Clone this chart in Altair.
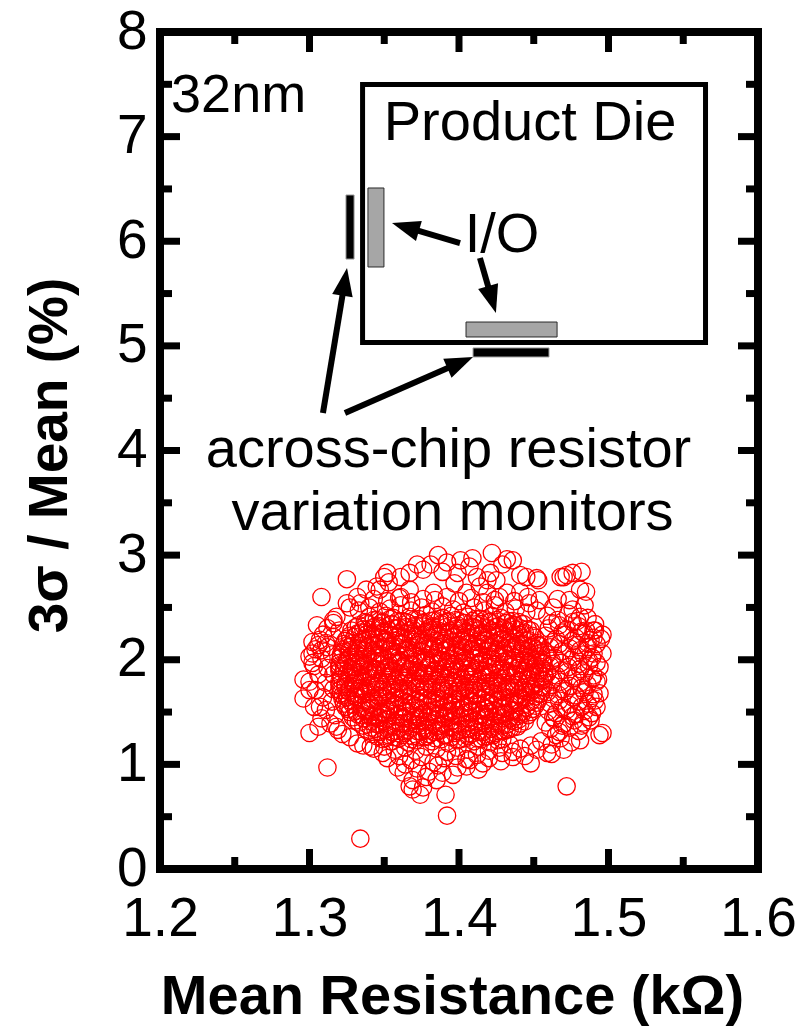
import math

import altair as alt
import pandas as pd

# ---------------------------------------------------------------------------
# Across-chip resistor monitors, 32nm: mean resistance (kOhm) vs 3sigma/mean (%)
# ---------------------------------------------------------------------------

# dense central mass, row by row
core_r = [
    1.340, 1.345, 1.351, 1.356, 1.362, 1.367, 1.373, 1.378, 1.384, 1.389, 1.395, 1.400, 1.406, 1.411, 1.417, 1.422, 1.428, 1.433,
    1.333, 1.338, 1.344, 1.349, 1.355, 1.360, 1.366, 1.371, 1.377, 1.382, 1.388, 1.393, 1.399, 1.404, 1.410, 1.415, 1.421, 1.426, 1.432, 1.437, 1.443,
    1.328, 1.334, 1.339, 1.345, 1.350, 1.356, 1.361, 1.367, 1.372, 1.378, 1.383, 1.389, 1.394, 1.400, 1.405, 1.411, 1.416, 1.422, 1.427, 1.433, 1.438, 1.444, 1.448,
    1.325, 1.330, 1.336, 1.341, 1.347, 1.352, 1.358, 1.363, 1.369, 1.374, 1.380, 1.385, 1.391, 1.396, 1.402, 1.407, 1.413, 1.418, 1.424, 1.429, 1.435, 1.440, 1.446, 1.451,
    1.323, 1.328, 1.333, 1.339, 1.344, 1.350, 1.355, 1.361, 1.366, 1.372, 1.377, 1.383, 1.388, 1.394, 1.399, 1.405, 1.410, 1.416, 1.421, 1.427, 1.432, 1.438, 1.443, 1.449, 1.453,
    1.322, 1.327, 1.331, 1.336, 1.342, 1.347, 1.353, 1.358, 1.364, 1.369, 1.375, 1.380, 1.386, 1.391, 1.397, 1.402, 1.408, 1.413, 1.419, 1.424, 1.430, 1.435, 1.441, 1.446, 1.451, 1.455,
    1.321, 1.325, 1.330, 1.334, 1.339, 1.345, 1.350, 1.356, 1.361, 1.367, 1.372, 1.378, 1.383, 1.389, 1.394, 1.400, 1.405, 1.411, 1.416, 1.422, 1.427, 1.433, 1.438, 1.444, 1.449, 1.453, 1.456,
    1.320, 1.324, 1.329, 1.333, 1.337, 1.342, 1.347, 1.353, 1.358, 1.364, 1.369, 1.375, 1.380, 1.386, 1.391, 1.397, 1.402, 1.408, 1.413, 1.419, 1.424, 1.430, 1.435, 1.441, 1.446, 1.451, 1.456,
    1.320, 1.325, 1.329, 1.334, 1.339, 1.344, 1.350, 1.355, 1.361, 1.366, 1.372, 1.377, 1.383, 1.388, 1.394, 1.399, 1.405, 1.410, 1.416, 1.421, 1.427, 1.432, 1.438, 1.443, 1.449, 1.453, 1.457,
    1.321, 1.326, 1.331, 1.336, 1.341, 1.347, 1.352, 1.358, 1.363, 1.369, 1.374, 1.380, 1.385, 1.391, 1.396, 1.402, 1.407, 1.413, 1.418, 1.424, 1.429, 1.435, 1.440, 1.446, 1.451, 1.456,
    1.320, 1.324, 1.329, 1.334, 1.339, 1.344, 1.349, 1.355, 1.360, 1.366, 1.371, 1.377, 1.382, 1.388, 1.393, 1.399, 1.404, 1.410, 1.415, 1.421, 1.426, 1.432, 1.437, 1.443, 1.448, 1.452, 1.456,
    1.321, 1.326, 1.331, 1.336, 1.341, 1.346, 1.352, 1.357, 1.363, 1.368, 1.374, 1.379, 1.385, 1.390, 1.396, 1.401, 1.407, 1.412, 1.418, 1.423, 1.429, 1.434, 1.440, 1.445, 1.450, 1.455,
    1.322, 1.327, 1.332, 1.338, 1.343, 1.349, 1.354, 1.360, 1.365, 1.371, 1.376, 1.382, 1.387, 1.393, 1.398, 1.404, 1.409, 1.415, 1.420, 1.426, 1.431, 1.437, 1.442, 1.448, 1.453,
    1.324, 1.329, 1.335, 1.340, 1.346, 1.351, 1.357, 1.362, 1.368, 1.373, 1.379, 1.384, 1.390, 1.395, 1.401, 1.406, 1.412, 1.417, 1.423, 1.428, 1.434, 1.439, 1.445, 1.451,
    1.327, 1.332, 1.338, 1.343, 1.349, 1.354, 1.360, 1.365, 1.371, 1.376, 1.382, 1.387, 1.393, 1.398, 1.404, 1.409, 1.415, 1.420, 1.426, 1.431, 1.437, 1.442, 1.448,
    1.331, 1.336, 1.341, 1.347, 1.352, 1.358, 1.363, 1.369, 1.374, 1.380, 1.385, 1.391, 1.396, 1.402, 1.407, 1.413, 1.418, 1.424, 1.429, 1.435, 1.440, 1.444,
    1.336, 1.341, 1.346, 1.352, 1.357, 1.363, 1.368, 1.374, 1.379, 1.385, 1.390, 1.396, 1.401, 1.407, 1.412, 1.418, 1.423, 1.429, 1.434, 1.439,
    1.342, 1.347, 1.353, 1.358, 1.364, 1.369, 1.375, 1.380, 1.386, 1.391, 1.397, 1.402, 1.408, 1.413, 1.419, 1.424, 1.430,
    1.349, 1.355, 1.360, 1.366, 1.371, 1.377, 1.382, 1.388, 1.393, 1.399, 1.404, 1.410, 1.415, 1.421, 1.426,
]
core_s = [
    2.41, 2.38, 2.42, 2.40, 2.37, 2.41, 2.39, 2.43, 2.38, 2.40, 2.42, 2.37, 2.41, 2.39, 2.38, 2.42, 2.40, 2.37,
    2.33, 2.35, 2.32, 2.36, 2.34, 2.31, 2.35, 2.33, 2.36, 2.32, 2.34, 2.37, 2.33, 2.35, 2.31, 2.34, 2.36, 2.32, 2.35, 2.33, 2.34,
    2.28, 2.26, 2.29, 2.25, 2.27, 2.30, 2.26, 2.28, 2.24, 2.27, 2.29, 2.26, 2.28, 2.25, 2.27, 2.30, 2.26, 2.28, 2.25, 2.27, 2.29, 2.26, 2.28,
    2.20, 2.22, 2.19, 2.23, 2.21, 2.18, 2.22, 2.20, 2.23, 2.19, 2.21, 2.24, 2.20, 2.22, 2.18, 2.21, 2.23, 2.19, 2.22, 2.20, 2.21, 2.24, 2.19, 2.21,
    2.15, 2.13, 2.16, 2.12, 2.14, 2.17, 2.13, 2.15, 2.11, 2.14, 2.16, 2.13, 2.15, 2.12, 2.14, 2.17, 2.13, 2.15, 2.12, 2.14, 2.16, 2.13, 2.15, 2.12, 2.14,
    2.07, 2.09, 2.06, 2.10, 2.08, 2.05, 2.09, 2.07, 2.10, 2.06, 2.08, 2.11, 2.07, 2.09, 2.05, 2.08, 2.10, 2.06, 2.09, 2.07, 2.08, 2.11, 2.06, 2.08, 2.10, 2.07,
    2.02, 2.00, 2.03, 1.99, 2.01, 2.04, 2.00, 2.02, 1.98, 2.01, 2.03, 2.00, 2.02, 1.99, 2.01, 2.04, 2.00, 2.02, 1.99, 2.01, 2.03, 2.00, 2.02, 1.99, 2.01, 2.03, 2.00,
    1.94, 1.96, 1.93, 1.97, 1.95, 1.92, 1.96, 1.94, 1.97, 1.93, 1.95, 1.98, 1.94, 1.96, 1.92, 1.95, 1.97, 1.93, 1.96, 1.94, 1.95, 1.98, 1.93, 1.95, 1.97, 1.94, 1.96,
    1.89, 1.87, 1.90, 1.86, 1.88, 1.91, 1.87, 1.89, 1.85, 1.88, 1.90, 1.87, 1.89, 1.86, 1.88, 1.91, 1.87, 1.89, 1.86, 1.88, 1.90, 1.87, 1.89, 1.86, 1.88, 1.90, 1.87,
    1.81, 1.83, 1.80, 1.84, 1.82, 1.79, 1.83, 1.81, 1.84, 1.80, 1.82, 1.85, 1.81, 1.83, 1.79, 1.82, 1.84, 1.80, 1.83, 1.81, 1.82, 1.85, 1.80, 1.82, 1.84, 1.81,
    1.76, 1.74, 1.77, 1.73, 1.75, 1.78, 1.74, 1.76, 1.72, 1.75, 1.77, 1.74, 1.76, 1.73, 1.75, 1.78, 1.74, 1.76, 1.73, 1.75, 1.77, 1.74, 1.76, 1.73, 1.75, 1.77, 1.74,
    1.68, 1.70, 1.67, 1.71, 1.69, 1.66, 1.70, 1.68, 1.71, 1.67, 1.69, 1.72, 1.68, 1.70, 1.66, 1.69, 1.71, 1.67, 1.70, 1.68, 1.69, 1.72, 1.67, 1.69, 1.71, 1.68,
    1.63, 1.61, 1.64, 1.60, 1.62, 1.65, 1.61, 1.63, 1.59, 1.62, 1.64, 1.61, 1.63, 1.60, 1.62, 1.65, 1.61, 1.63, 1.60, 1.62, 1.64, 1.61, 1.63, 1.60, 1.62,
    1.55, 1.57, 1.54, 1.58, 1.56, 1.53, 1.57, 1.55, 1.58, 1.54, 1.56, 1.59, 1.55, 1.57, 1.53, 1.56, 1.58, 1.54, 1.57, 1.55, 1.56, 1.59, 1.54, 1.56,
    1.50, 1.48, 1.51, 1.47, 1.49, 1.52, 1.48, 1.50, 1.46, 1.49, 1.51, 1.48, 1.50, 1.47, 1.49, 1.52, 1.48, 1.50, 1.47, 1.49, 1.51, 1.48, 1.50,
    1.42, 1.44, 1.41, 1.45, 1.43, 1.40, 1.44, 1.42, 1.45, 1.41, 1.43, 1.46, 1.42, 1.44, 1.40, 1.43, 1.45, 1.41, 1.44, 1.42, 1.43, 1.41,
    1.37, 1.35, 1.38, 1.34, 1.36, 1.39, 1.35, 1.37, 1.33, 1.36, 1.38, 1.35, 1.37, 1.34, 1.36, 1.39, 1.35, 1.37, 1.34, 1.36,
    1.29, 1.31, 1.28, 1.32, 1.30, 1.27, 1.31, 1.29, 1.32, 1.28, 1.30, 1.33, 1.29, 1.31, 1.27, 1.30, 1.32,
    1.24, 1.22, 1.25, 1.21, 1.23, 1.26, 1.22, 1.24, 1.20, 1.23, 1.25, 1.22, 1.24, 1.21, 1.23,
]

# second set of rows interleaved with the first
mid_r = [
    1.337, 1.343, 1.348, 1.354, 1.359, 1.365, 1.370, 1.376, 1.381, 1.387, 1.392, 1.398, 1.403, 1.409, 1.414, 1.420, 1.425, 1.431, 1.436, 1.440,
    1.331, 1.336, 1.342, 1.347, 1.353, 1.358, 1.364, 1.369, 1.375, 1.380, 1.386, 1.391, 1.397, 1.402, 1.408, 1.413, 1.419, 1.424, 1.430, 1.435, 1.441, 1.446,
    1.327, 1.332, 1.338, 1.343, 1.349, 1.354, 1.360, 1.365, 1.371, 1.376, 1.382, 1.387, 1.393, 1.398, 1.404, 1.409, 1.415, 1.420, 1.426, 1.431, 1.437, 1.442, 1.449,
    1.324, 1.329, 1.335, 1.340, 1.346, 1.351, 1.357, 1.362, 1.368, 1.373, 1.379, 1.384, 1.390, 1.395, 1.401, 1.406, 1.412, 1.417, 1.423, 1.428, 1.434, 1.439, 1.445, 1.452,
    1.322, 1.326, 1.332, 1.337, 1.343, 1.348, 1.354, 1.359, 1.365, 1.370, 1.376, 1.381, 1.387, 1.392, 1.398, 1.403, 1.409, 1.414, 1.420, 1.425, 1.431, 1.436, 1.442, 1.447, 1.454,
    1.321, 1.327, 1.333, 1.338, 1.344, 1.349, 1.355, 1.360, 1.366, 1.371, 1.377, 1.382, 1.388, 1.393, 1.399, 1.404, 1.410, 1.415, 1.421, 1.426, 1.432, 1.437, 1.443, 1.448, 1.455,
    1.320, 1.326, 1.331, 1.337, 1.342, 1.348, 1.353, 1.359, 1.364, 1.370, 1.375, 1.381, 1.386, 1.392, 1.397, 1.403, 1.408, 1.414, 1.419, 1.425, 1.430, 1.436, 1.441, 1.447, 1.452, 1.456,
    1.320, 1.323, 1.328, 1.334, 1.340, 1.345, 1.351, 1.356, 1.362, 1.367, 1.373, 1.378, 1.384, 1.389, 1.395, 1.400, 1.406, 1.411, 1.417, 1.422, 1.428, 1.433, 1.439, 1.444, 1.450, 1.455,
    1.321, 1.327, 1.332, 1.338, 1.343, 1.349, 1.354, 1.360, 1.365, 1.371, 1.376, 1.382, 1.387, 1.393, 1.398, 1.404, 1.409, 1.415, 1.420, 1.426, 1.431, 1.437, 1.442, 1.448, 1.453, 1.457,
    1.320, 1.324, 1.330, 1.335, 1.341, 1.346, 1.352, 1.357, 1.363, 1.368, 1.374, 1.379, 1.385, 1.390, 1.396, 1.401, 1.407, 1.412, 1.418, 1.423, 1.429, 1.434, 1.440, 1.445, 1.451, 1.456,
    1.320, 1.327, 1.333, 1.338, 1.344, 1.349, 1.355, 1.360, 1.366, 1.371, 1.377, 1.382, 1.388, 1.393, 1.399, 1.404, 1.410, 1.415, 1.421, 1.426, 1.432, 1.437, 1.443, 1.448, 1.455,
    1.322, 1.325, 1.330, 1.335, 1.341, 1.346, 1.352, 1.357, 1.363, 1.368, 1.374, 1.379, 1.385, 1.390, 1.396, 1.401, 1.407, 1.412, 1.418, 1.423, 1.429, 1.434, 1.440, 1.445, 1.451, 1.454,
    1.323, 1.330, 1.335, 1.341, 1.346, 1.352, 1.357, 1.363, 1.368, 1.374, 1.379, 1.385, 1.390, 1.396, 1.401, 1.407, 1.412, 1.418, 1.423, 1.429, 1.434, 1.440, 1.445, 1.452,
    1.326, 1.331, 1.337, 1.342, 1.348, 1.353, 1.359, 1.364, 1.370, 1.375, 1.381, 1.386, 1.392, 1.397, 1.403, 1.408, 1.414, 1.419, 1.425, 1.430, 1.436, 1.441, 1.449,
    1.329, 1.335, 1.340, 1.346, 1.351, 1.357, 1.362, 1.368, 1.373, 1.379, 1.384, 1.390, 1.395, 1.401, 1.406, 1.412, 1.417, 1.423, 1.428, 1.434, 1.439, 1.446,
    1.333, 1.339, 1.344, 1.350, 1.355, 1.361, 1.366, 1.372, 1.377, 1.383, 1.388, 1.394, 1.399, 1.405, 1.410, 1.416, 1.421, 1.427, 1.432, 1.437, 1.441,
    1.339, 1.344, 1.350, 1.355, 1.361, 1.366, 1.372, 1.377, 1.383, 1.388, 1.394, 1.399, 1.405, 1.410, 1.416, 1.421, 1.427, 1.432, 1.436,
    1.345, 1.351, 1.357, 1.362, 1.368, 1.373, 1.379, 1.384, 1.390, 1.395, 1.401, 1.406, 1.412, 1.417, 1.423, 1.429,
]
mid_s = [
    2.36, 2.38, 2.35, 2.39, 2.37, 2.36, 2.38, 2.35, 2.37, 2.39, 2.36, 2.38, 2.35, 2.37, 2.39, 2.36, 2.38, 2.35, 2.37, 2.36,
    2.31, 2.29, 2.30, 2.32, 2.28, 2.30, 2.31, 2.29, 2.32, 2.30, 2.28, 2.31, 2.29, 2.30, 2.32, 2.28, 2.30, 2.31, 2.29, 2.32, 2.30, 2.29,
    2.23, 2.25, 2.24, 2.22, 2.26, 2.24, 2.23, 2.25, 2.22, 2.24, 2.26, 2.23, 2.25, 2.24, 2.22, 2.25, 2.23, 2.24, 2.26, 2.22, 2.24, 2.25, 2.23,
    2.18, 2.16, 2.17, 2.19, 2.15, 2.17, 2.18, 2.16, 2.19, 2.17, 2.15, 2.18, 2.16, 2.17, 2.19, 2.15, 2.17, 2.18, 2.16, 2.19, 2.17, 2.15, 2.18, 2.16,
    2.10, 2.12, 2.11, 2.09, 2.13, 2.11, 2.10, 2.12, 2.09, 2.11, 2.13, 2.10, 2.12, 2.11, 2.09, 2.12, 2.10, 2.11, 2.13, 2.09, 2.11, 2.12, 2.10, 2.11, 2.13,
    2.05, 2.03, 2.04, 2.06, 2.02, 2.04, 2.05, 2.03, 2.06, 2.04, 2.02, 2.05, 2.03, 2.04, 2.06, 2.02, 2.04, 2.05, 2.03, 2.06, 2.04, 2.02, 2.05, 2.03, 2.04,
    1.97, 1.99, 1.98, 1.96, 2.00, 1.98, 1.97, 1.99, 1.96, 1.98, 2.00, 1.97, 1.99, 1.98, 1.96, 1.99, 1.97, 1.98, 2.00, 1.96, 1.98, 1.99, 1.97, 1.98, 2.00, 1.97,
    1.92, 1.90, 1.91, 1.93, 1.89, 1.91, 1.92, 1.90, 1.93, 1.91, 1.89, 1.92, 1.90, 1.91, 1.93, 1.89, 1.91, 1.92, 1.90, 1.93, 1.91, 1.89, 1.92, 1.90, 1.91, 1.93,
    1.84, 1.86, 1.85, 1.83, 1.87, 1.85, 1.84, 1.86, 1.83, 1.85, 1.87, 1.84, 1.86, 1.85, 1.83, 1.86, 1.84, 1.85, 1.87, 1.83, 1.85, 1.86, 1.84, 1.85, 1.87, 1.84,
    1.79, 1.77, 1.78, 1.80, 1.76, 1.78, 1.79, 1.77, 1.80, 1.78, 1.76, 1.79, 1.77, 1.78, 1.80, 1.76, 1.78, 1.79, 1.77, 1.80, 1.78, 1.76, 1.79, 1.77, 1.78, 1.80,
    1.71, 1.73, 1.72, 1.70, 1.74, 1.72, 1.71, 1.73, 1.70, 1.72, 1.74, 1.71, 1.73, 1.72, 1.70, 1.73, 1.71, 1.72, 1.74, 1.70, 1.72, 1.73, 1.71, 1.72, 1.74,
    1.66, 1.64, 1.65, 1.67, 1.63, 1.65, 1.66, 1.64, 1.67, 1.65, 1.63, 1.66, 1.64, 1.65, 1.67, 1.63, 1.65, 1.66, 1.64, 1.67, 1.65, 1.63, 1.66, 1.64, 1.65, 1.67,
    1.58, 1.60, 1.59, 1.57, 1.61, 1.59, 1.58, 1.60, 1.57, 1.59, 1.61, 1.58, 1.60, 1.59, 1.57, 1.60, 1.58, 1.59, 1.61, 1.57, 1.59, 1.60, 1.58, 1.59,
    1.53, 1.51, 1.52, 1.54, 1.50, 1.52, 1.53, 1.51, 1.54, 1.52, 1.50, 1.53, 1.51, 1.52, 1.54, 1.50, 1.52, 1.53, 1.51, 1.54, 1.52, 1.50, 1.53,
    1.45, 1.47, 1.46, 1.44, 1.48, 1.46, 1.45, 1.47, 1.44, 1.46, 1.48, 1.45, 1.47, 1.46, 1.44, 1.47, 1.45, 1.46, 1.48, 1.44, 1.46, 1.47,
    1.40, 1.38, 1.39, 1.41, 1.37, 1.39, 1.40, 1.38, 1.41, 1.39, 1.37, 1.40, 1.38, 1.39, 1.41, 1.37, 1.39, 1.40, 1.38, 1.41, 1.39,
    1.32, 1.34, 1.33, 1.31, 1.35, 1.33, 1.32, 1.34, 1.31, 1.33, 1.35, 1.32, 1.34, 1.33, 1.31, 1.34, 1.32, 1.33, 1.35,
    1.27, 1.25, 1.26, 1.28, 1.24, 1.26, 1.27, 1.25, 1.28, 1.26, 1.24, 1.27, 1.25, 1.26, 1.28, 1.24,
]

# right-hand lobe of the cloud
right_r = [
    1.459, 1.466, 1.473, 1.479, 1.486,
    1.460, 1.467, 1.472, 1.480, 1.485, 1.491,
    1.458, 1.465, 1.471, 1.478, 1.484, 1.490,
    1.461, 1.467, 1.474, 1.479, 1.486, 1.492,
    1.459, 1.464, 1.471, 1.477, 1.483, 1.489,
    1.461, 1.468, 1.473, 1.480, 1.487, 1.492,
    1.459, 1.465, 1.472, 1.478, 1.484, 1.490,
    1.462, 1.468, 1.474, 1.481, 1.486, 1.492,
    1.459, 1.466, 1.471, 1.478, 1.484, 1.490,
    1.461, 1.467, 1.474, 1.480, 1.486, 1.491,
    1.460, 1.465, 1.472, 1.478, 1.484, 1.489,
    1.458, 1.464, 1.470, 1.477, 1.483,
    1.461, 1.467, 1.474, 1.480,
    1.462, 1.476, 1.469, 1.482, 1.463, 1.476, 1.488, 1.469, 1.481, 1.462,
    1.475, 1.487, 1.468, 1.481, 1.463, 1.476, 1.489, 1.469, 1.482, 1.463,
    1.476, 1.488, 1.469, 1.482, 1.463, 1.476, 1.487, 1.469, 1.482, 1.465,
]
right_s = [
    2.42, 2.38, 2.44, 2.37, 2.40,
    2.30, 2.33, 2.29, 2.32, 2.28, 2.34,
    2.23, 2.20, 2.24, 2.21, 2.25, 2.21,
    2.12, 2.15, 2.11, 2.14, 2.12, 2.15,
    2.05, 2.02, 2.06, 2.03, 2.05, 2.02,
    1.94, 1.97, 1.93, 1.96, 1.94, 1.97,
    1.87, 1.85, 1.88, 1.84, 1.87, 1.85,
    1.76, 1.79, 1.75, 1.78, 1.76, 1.79,
    1.69, 1.67, 1.70, 1.66, 1.69, 1.67,
    1.58, 1.61, 1.57, 1.60, 1.58, 1.61,
    1.51, 1.49, 1.52, 1.48, 1.51, 1.49,
    1.40, 1.43, 1.39, 1.42, 1.40,
    1.34, 1.31, 1.35, 1.32,
    2.35, 2.36, 2.26, 2.27, 2.17, 2.18, 2.19, 2.08, 2.09, 1.99,
    2.00, 1.99, 1.90, 1.91, 1.81, 1.82, 1.82, 1.72, 1.73, 1.63,
    1.64, 1.63, 1.54, 1.55, 1.45, 1.46, 1.45, 1.37, 1.37, 1.28,
]

# left flank
left_r = [1.305, 1.312, 1.309, 1.316, 1.304, 1.311, 1.315, 1.308, 1.303, 1.312,
          1.316, 1.306, 1.300, 1.311, 1.316, 1.304, 1.309, 1.315, 1.303, 1.311,
          1.317, 1.308, 1.314, 1.319, 1.306, 1.322]
left_s = [2.33, 2.30, 2.24, 2.22, 2.10, 2.16, 2.05, 2.01, 1.94, 1.92,
          1.86, 1.86, 1.79, 1.78, 1.72, 1.71, 1.64, 1.60, 1.55, 1.52,
          1.47, 1.44, 1.39, 1.33, 1.36, 1.29]

# upper band
top_r = [1.333, 1.340, 1.347, 1.354, 1.361, 1.368, 1.375, 1.382, 1.389, 1.396,
         1.403, 1.410, 1.417, 1.424, 1.431, 1.438, 1.445, 1.452,
         1.343, 1.352, 1.360, 1.368, 1.376, 1.384, 1.392, 1.400, 1.408, 1.416,
         1.424, 1.437, 1.446, 1.466]
top_s = [2.47, 2.50, 2.46, 2.49, 2.52, 2.47, 2.50, 2.46, 2.51, 2.48,
         2.45, 2.50, 2.47, 2.52, 2.46, 2.49, 2.45, 2.47,
         2.58, 2.56, 2.59, 2.55, 2.58, 2.57, 2.60, 2.56, 2.59, 2.55,
         2.57, 2.56, 2.60, 2.58]

# lower band
low_r = [1.336, 1.343, 1.350, 1.357, 1.364, 1.371, 1.378, 1.385, 1.392, 1.399,
         1.406, 1.413, 1.420, 1.427, 1.434, 1.441, 1.448, 1.455, 1.462, 1.468,
         1.475,
         1.352, 1.360, 1.368, 1.375, 1.383, 1.390, 1.398, 1.405, 1.412, 1.420,
         1.428, 1.436, 1.444, 1.452, 1.462,
         1.372, 1.380, 1.386, 1.396, 1.405, 1.413, 1.378, 1.364]
low_s = [1.18, 1.15, 1.17, 1.14, 1.16, 1.13, 1.17, 1.15, 1.12, 1.16,
         1.14, 1.17, 1.13, 1.16, 1.19, 1.15, 1.18, 1.22, 1.19, 1.25,
         1.21,
         1.06, 1.08, 1.04, 1.07, 1.02, 1.06, 1.08, 1.05, 1.09, 1.06,
         1.03, 1.12, 1.08, 1.14, 1.10,
         0.96, 0.93, 0.99, 0.90, 0.98, 0.95, 0.88, 1.00]

# outer ring and stragglers
edge_r = [1.325, 1.308, 1.386, 1.422, 1.409, 1.432, 1.372, 1.482, 1.470, 1.453,
          1.485, 1.496, 1.496, 1.472, 1.391, 1.392, 1.334, 1.312, 1.300, 1.296,
          1.302, 1.374, 1.367, 1.429, 1.436, 1.441, 1.452, 1.468, 1.476, 1.481,
          1.484, 1.474, 1.491, 1.495, 1.496, 1.494, 1.493, 1.494, 1.492, 1.488,
          1.494, 1.481, 1.470, 1.459, 1.448, 1.436, 1.429, 1.416, 1.407, 1.399,
          1.389, 1.385, 1.376, 1.369, 1.369, 1.363, 1.359, 1.349, 1.341, 1.332,
          1.327, 1.318, 1.307, 1.300, 1.296, 1.302, 1.302, 1.306, 1.308, 1.316,
          1.318, 1.325, 1.332, 1.345, 1.352, 1.353, 1.367, 1.376, 1.381, 1.389,
          1.399, 1.407, 1.412, 1.421, 1.425, 1.401,
          1.392, 1.350, 1.334, 1.347, 1.361, 1.367, 1.397, 1.414, 1.419, 1.445,
          1.472, 1.454, 1.447, 1.463, 1.476, 1.481, 1.490, 1.486, 1.427, 1.432,
          1.441, 1.419, 1.405, 1.383, 1.361, 1.338, 1.327, 1.316, 1.320, 1.307,
          1.312, 1.300, 1.490]
edge_s = [2.77, 2.60, 3.00, 3.02, 2.97, 2.96, 2.91, 2.84, 2.79, 2.76,
          2.65, 2.24, 1.30, 0.79, 0.71, 0.51, 0.29, 0.97, 1.30, 1.63,
          2.17, 0.71, 0.79, 2.91, 2.95, 2.81, 2.78, 2.79, 2.83, 2.67,
          2.52, 2.57, 2.28, 2.20, 2.06, 1.93, 1.81, 1.68, 1.55, 1.42,
          1.28, 1.23, 1.14, 1.11, 1.01, 1.07, 1.11, 1.01, 1.04, 0.97,
          0.92, 0.85, 0.78, 0.76, 0.85, 0.92, 0.97, 1.11, 1.17, 1.20,
          1.26, 1.36, 1.55, 1.71, 1.81, 1.97, 2.06, 2.14, 2.09, 2.35,
          2.41, 2.54, 2.60, 2.70, 2.83, 2.74, 2.83, 2.86, 2.91, 2.84,
          2.83, 2.89, 2.79, 2.83, 2.76, 2.95,
          2.93, 2.79, 2.54, 2.67, 2.60, 2.67, 2.73, 2.70, 2.76, 2.79,
          2.81, 2.57, 2.54, 2.50, 2.48, 2.41, 2.28, 2.16, 2.60, 2.64,
          2.65, 2.64, 2.64, 2.64, 2.79, 2.67, 2.50, 2.38, 2.28, 2.19,
          2.12, 2.03, 2.06]

# axis ticks
x_major = [1.2, 1.3, 1.4, 1.5, 1.6]
x_minor = [1.25, 1.35, 1.45, 1.55]
y_major = [0, 1, 2, 3, 4, 5, 6, 7, 8]
y_minor = [0.5, 1.5, 2.5, 3.5, 4.5, 5.5, 6.5, 7.5]

# die sketch (in axis units)
die_box = {"x": [1.3355], "x2": [1.5649], "y": [5.032], "y2": [7.498]}
io_pads = {"x": [1.3391, 1.4047], "x2": [1.3498, 1.4656], "y": [5.754, 5.085], "y2": [6.509, 5.228]}
monitors = {"x": [1.3244, 1.4094], "x2": [1.3298, 1.4602], "y": [5.830, 4.894], "y2": [6.442, 4.980]}
arrow_tail_r = [1.4007, 1.4140, 1.3090, 1.3237]
arrow_tail_s = [5.983, 5.840, 4.358, 4.358]
arrow_tip_r = [1.3552, 1.4247, 1.3251, 1.4094]
arrow_tip_s = [6.174, 5.314, 5.744, 4.894]

# ---------------------------------------------------------------------------
W, H = 598, 837
FONT = "Liberation Sans"
PX_R = W / (x_major[-1] - x_major[0])
PX_S = H / (y_major[-1] - y_major[0])

xs = alt.Scale(domain=[x_major[0], x_major[-1]], nice=False, zero=False)
ys = alt.Scale(domain=[y_major[0], y_major[-1]], nice=False, zero=False)

# one axis definition shared by every layer so the merged axis keeps it
XAXIS = alt.Axis(
    values=x_major, format=".1f", grid=False, domain=False, ticks=False, tickSize=0,
    labelFont=FONT, labelFontSize=55, labelColor="black", labelPadding=66,
    labelBaseline="alphabetic", labelFlush=False, labelOverlap=False,
    title="Mean Resistance (kΩ)", titleFont=FONT, titleFontSize=56,
    titleFontWeight="bold", titleColor="black", titleX=292, titleY=144,
    titleBaseline="alphabetic", titleAlign="center",
)
YAXIS = alt.Axis(
    values=y_major, format="d", grid=False, domain=False, ticks=False, tickSize=0,
    labelFont=FONT, labelFontSize=55, labelColor="black", labelPadding=13,
    labelAlign="right", labelBaseline="alphabetic", labelOffset=16,
    labelFlush=False, labelOverlap=False,
    title="3σ / Mean (%)", titleFont=FONT, titleFontSize=55,
    titleFontWeight="bold", titleColor="black", titleAngle=270,
    titleX=-94, titleY=423, titleBaseline="alphabetic", titleAlign="center",
)


def X(field):
    return alt.X(field, scale=xs, axis=XAXIS)


def Y(field):
    return alt.Y(field, scale=ys, axis=YAXIS)


points = pd.DataFrame({
    "r": core_r + mid_r + right_r + left_r + top_r + low_r + edge_r,
    "s": core_s + mid_s + right_s + left_s + top_s + low_s + edge_s,
})

scatter = alt.Chart(points).mark_point(
    shape="circle", filled=False, color="#ff0000", size=300, strokeWidth=1.3, opacity=1
).encode(x=X("r:Q"), y=Y("s:Q"))


def box_layer(table, **style):
    return alt.Chart(pd.DataFrame(table)).mark_rect(**style).encode(
        x=X("x:Q"), x2="x2:Q", y=Y("y:Q"), y2="y2:Q",
    )


die = box_layer(die_box, fill="white", stroke="black", strokeWidth=5)
pads = box_layer(io_pads, fill="#a6a6a6", stroke="#2a2a2a", strokeWidth=1)
mons = box_layer(monitors, fill="black", stroke="#9a9a9a", strokeWidth=1)

# arrows: shaft stops inside the head, head rotated toward the tip
HEAD = 28
shaft_rows, head_rows = [], []
for tr, ts, pr, ps in zip(arrow_tail_r, arrow_tail_s, arrow_tip_r, arrow_tip_s):
    dx = (pr - tr) * PX_R
    dy = -(ps - ts) * PX_S
    L = math.hypot(dx, dy)
    ux, uy = dx / L, dy / L
    ang = math.degrees(math.atan2(ux, -uy)) % 360
    end_r = pr - 0.65 * HEAD * ux / PX_R
    end_s = ps + 0.65 * HEAD * uy / PX_S
    shaft_rows.append({"r": tr, "s": ts, "r2": end_r, "s2": end_s})
    head_rows.append({"r": pr, "s": ps, "a": ang})

shafts = alt.Chart(pd.DataFrame(shaft_rows)).mark_rule(
    color="black", strokeWidth=6, strokeCap="butt"
).encode(x=X("r:Q"), x2="r2:Q", y=Y("s:Q"), y2="s2:Q")

heads = alt.Chart(pd.DataFrame(head_rows)).mark_point(
    shape="M0,0 L0.37,1 L-0.37,1 Z", filled=True, color="black",
    size=(2 * HEAD) ** 2, opacity=1,
).encode(x=X("r:Q"), y=Y("s:Q"), angle=alt.Angle("a:Q", scale=None))


def label(text, r, s, size=56, align="center"):
    return alt.Chart(pd.DataFrame({"r": [r], "s": [s], "t": [text]})).mark_text(
        font=FONT, fontSize=size, align=align, baseline="alphabetic", color="black"
    ).encode(x=X("r:Q"), y=Y("s:Q"), text="t:N")


texts = [
    label("32nm", 1.2074, 7.235, size=54, align="left"),
    label("Product Die", 1.4475, 6.968),
    label("I/O", 1.4288, 5.897),
    label("across-chip resistor", 1.3930, 3.842),
    label("variation monitors", 1.3957, 3.240),
]


def x_ticks(vals, length):
    base = alt.Chart(pd.DataFrame({"v": vals})).mark_rule(
        color="black", strokeWidth=7, strokeCap="butt")
    return [
        base.encode(x=X("v:Q"), y=alt.value(H), y2=alt.value(H - length)),
        base.encode(x=X("v:Q"), y=alt.value(0), y2=alt.value(length)),
    ]


def y_ticks(vals, length):
    base = alt.Chart(pd.DataFrame({"v": vals})).mark_rule(
        color="black", strokeWidth=7, strokeCap="butt")
    return [
        base.encode(y=Y("v:Q"), x=alt.value(0), x2=alt.value(length)),
        base.encode(y=Y("v:Q"), x=alt.value(W), x2=alt.value(W - length)),
    ]


ticks = x_ticks(x_major, 20) + x_ticks(x_minor, 12) + y_ticks(y_major, 20) + y_ticks(y_minor, 12)

chart = alt.layer(
    scatter, die, pads, mons, shafts, heads, *texts, *ticks
).properties(
    width=W, height=H,
    autosize=alt.AutoSizeParams(type="none"),
    padding={"left": 160, "top": 32, "right": 50, "bottom": 157},
    background="white",
).configure_view(stroke="black", strokeWidth=8)

chart.save("out.html", embed_options={"renderer": "svg", "actions": False})
